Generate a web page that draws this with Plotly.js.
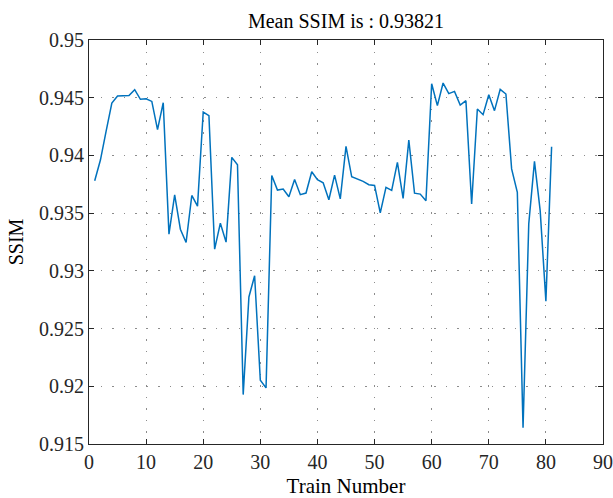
<!DOCTYPE html>
<html>
<head>
<meta charset="utf-8">
<script src="https://cdn.plot.ly/plotly-3.0.1.min.js"></script>
<style>html,body{margin:0;padding:0;background:#fff;}#chart{width:613px;height:498px;}</style>
</head>
<body>
<div id="chart"></div>
<script>
const trainNumber = [];
for (let i = 1; i <= 81; i++) trainNumber.push(i);
const ssim = [
  0.9378, 0.9396, 0.9421, 0.94454, 0.94514, 0.94514, 0.9452, 0.9457, 0.94486, 0.94491,
  0.94468, 0.94223, 0.94457, 0.93318, 0.93659, 0.93361, 0.93246, 0.93653, 0.93561, 0.94376,
  0.94344, 0.93188, 0.93413, 0.93249, 0.93983, 0.93919, 0.91928, 0.92774, 0.92958, 0.92052,
  0.91986, 0.93827, 0.93700, 0.93709, 0.93642, 0.93792, 0.93660, 0.93674, 0.93859, 0.93789,
  0.93763, 0.93616, 0.93830, 0.93623, 0.94078, 0.93815, 0.93798, 0.93775, 0.93746, 0.9374,
  0.93503, 0.93723, 0.93697, 0.93939, 0.93627, 0.94133, 0.93673, 0.93665, 0.93607, 0.94621,
  0.94431, 0.94627, 0.94535, 0.94555, 0.94436, 0.94474, 0.93579, 0.94402, 0.94353, 0.94526,
  0.94388, 0.94572, 0.94532, 0.93883, 0.93681, 0.91642, 0.93407, 0.93949, 0.93522, 0.92738,
  0.94076
];
const titleText = 'Mean SSIM is : 0.93821';
const xTitle = 'Train Number';
const yTitle = 'SSIM';

const font = 'Liberation Serif, Times New Roman, serif';
const axisCommon = {
  showline: true, linecolor: '#262626', linewidth: 1, mirror: 'ticks',
  ticks: 'inside', ticklen: 5, tickcolor: '#262626', tickwidth: 1,
  showgrid: true, gridcolor: '#8c8c8c', gridwidth: 1, griddash: '1.5px,10px',
  zeroline: false,
  tickfont: {family: font, size: 20, color: '#262626'}
};
const layout = {
  width: 613, height: 498,
  margin: {l: 89, r: 10, t: 40, b: 54},
  paper_bgcolor: '#fff', plot_bgcolor: '#fff',
  showlegend: false,
  title: {text: titleText, font: {family: font, size: 20, color: '#000'},
          x: 0.5, xref: 'paper', y: 1, yref: 'paper', yanchor: 'bottom', pad: {b: 12}},
  xaxis: Object.assign({}, axisCommon, {
    range: [0, 90], dtick: 10, tick0: 0,
    title: {text: xTitle, font: {family: font, size: 21, color: '#000'}, standoff: 6}
  }),
  yaxis: Object.assign({}, axisCommon, {
    range: [0.915, 0.95], dtick: 0.005, tick0: 0.915,
    title: {text: yTitle, font: {family: font, size: 20, color: '#000'}, standoff: 10}
  })
};
Plotly.newPlot('chart', [{
  x: trainNumber, y: ssim, type: 'scatter', mode: 'lines',
  line: {color: '#0072BD', width: 1.5}
}], layout, {displayModeBar: false, staticPlot: true});
</script>
</body>
</html>
